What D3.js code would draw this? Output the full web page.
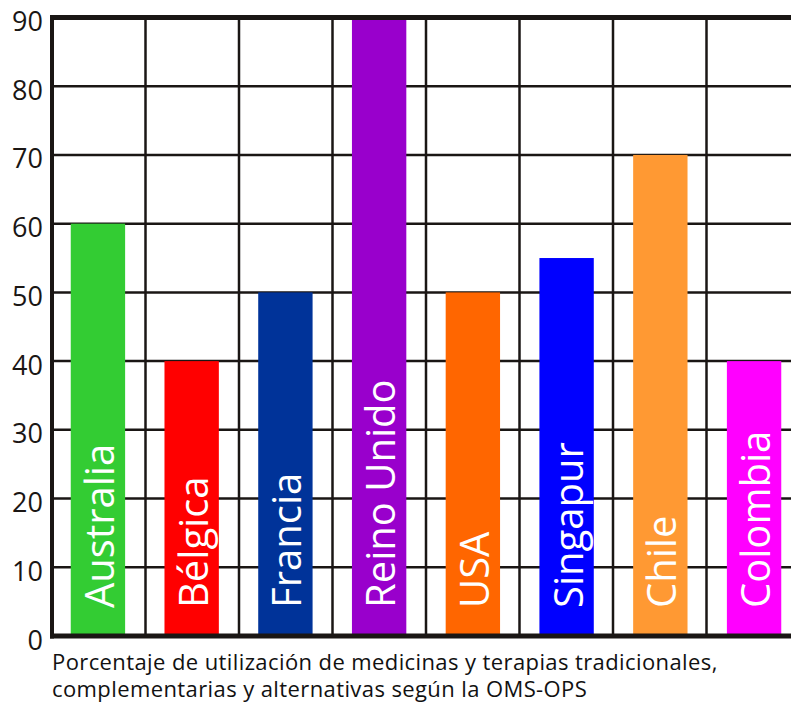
<!DOCTYPE html>
<html>
<head>
<meta charset="utf-8">
<script src="https://cdn.jsdelivr.net/npm/d3@7"></script>
<style>
  body { margin: 0; background: #fff; }
  svg { display: block; }
  text { font-family: "Open Sans", "Noto Sans", sans-serif; }
</style>
</head>
<body>
<div id="chart"></div>
<script>
// Data
const countries = ['Australia', 'Bélgica', 'Francia', 'Reino Unido', 'USA', 'Singapur', 'Chile', 'Colombia'];
const values = [60, 40, 50, 90, 50, 55, 70, 40];
const barColors = ['#33cc33', '#ff0000', '#003399', '#9900cc', '#ff6600', '#0000ff', '#ff9933', '#ff00ff'];
const yTicks = [0, 10, 20, 30, 40, 50, 60, 70, 80, 90];
const captionLines = [
    'Porcentaje de utilización de medicinas y terapias tradicionales,',
    'complementarias y alternativas según la OMS-OPS'
];

const width = 791, height = 702;
const plotLeft = 52, plotRight = 800, plotTop = 17.5, plotBottom = 636;
const ink = '#1a1614';

const svg = d3.select('#chart').append('svg')
    .attr('width', width)
    .attr('height', height);

// Scales
const xCol = d3.scaleBand().domain(countries).range([plotLeft, plotRight]).padding(0);
const xBar = d3.scaleBand().domain(countries).range([plotLeft, plotRight])
    .paddingInner(0.42).paddingOuter(0.2);
const y = d3.scaleLinear().domain([0, 90]).range([plotBottom, plotTop]);

// Horizontal grid lines
svg.append('g').selectAll('line')
    .data(yTicks.filter(t => t > 0 && t < 90))
    .enter().append('line')
    .attr('x1', plotLeft).attr('x2', plotRight)
    .attr('y1', d => y(d)).attr('y2', d => y(d))
    .attr('stroke', ink).attr('stroke-width', 2.5);

// Vertical grid lines (column boundaries)
const colEdges = countries.slice(1).map(d => xCol(d)).concat([plotRight]);
svg.append('g').selectAll('line')
    .data(colEdges)
    .enter().append('line')
    .attr('x1', d => d).attr('x2', d => d)
    .attr('y1', plotTop).attr('y2', plotBottom)
    .attr('stroke', ink).attr('stroke-width', 2.5);

// Bars
svg.append('g').selectAll('rect')
    .data(countries)
    .enter().append('rect')
    .attr('x', d => xBar(d))
    .attr('width', xBar.bandwidth())
    .attr('y', (d, i) => y(values[i]))
    .attr('height', (d, i) => plotBottom - y(values[i]))
    .attr('fill', (d, i) => barColors[i]);

// Bar labels, rotated
svg.append('g').selectAll('text')
    .data(countries)
    .enter().append('text')
    .attr('transform', d => `translate(${xBar(d) + xBar.bandwidth() / 2 + 16},${plotBottom - 28}) rotate(-90)`)
    .attr('fill', '#fff')
    .attr('font-size', 40)
    .text(d => d);

// Frame: top, left, bottom
svg.append('line')
    .attr('x1', plotLeft - 2).attr('x2', plotRight)
    .attr('y1', plotTop).attr('y2', plotTop)
    .attr('stroke', ink).attr('stroke-width', 5);
svg.append('line')
    .attr('x1', plotLeft).attr('x2', plotLeft)
    .attr('y1', plotTop - 2.5).attr('y2', plotBottom + 2.5)
    .attr('stroke', ink).attr('stroke-width', 4);
svg.append('line')
    .attr('x1', plotLeft - 2).attr('x2', plotRight)
    .attr('y1', plotBottom).attr('y2', plotBottom)
    .attr('stroke', ink).attr('stroke-width', 5);

// Y tick labels
svg.append('g').selectAll('text')
    .data(yTicks)
    .enter().append('text')
    .attr('x', 43)
    .attr('y', d => y(d))
    .attr('dy', '0.5em')
    .attr('text-anchor', 'end')
    .attr('font-size', 27)
    .attr('fill', ink)
    .text(d => d);

// Caption
svg.append('g').selectAll('text')
    .data(captionLines)
    .enter().append('text')
    .attr('x', 52)
    .attr('y', (d, i) => 670 + i * 27)
    .attr('font-size', 22)
    .attr('letter-spacing', 0.4)
    .attr('fill', '#111')
    .text(d => d);
</script>
</body>
</html>
